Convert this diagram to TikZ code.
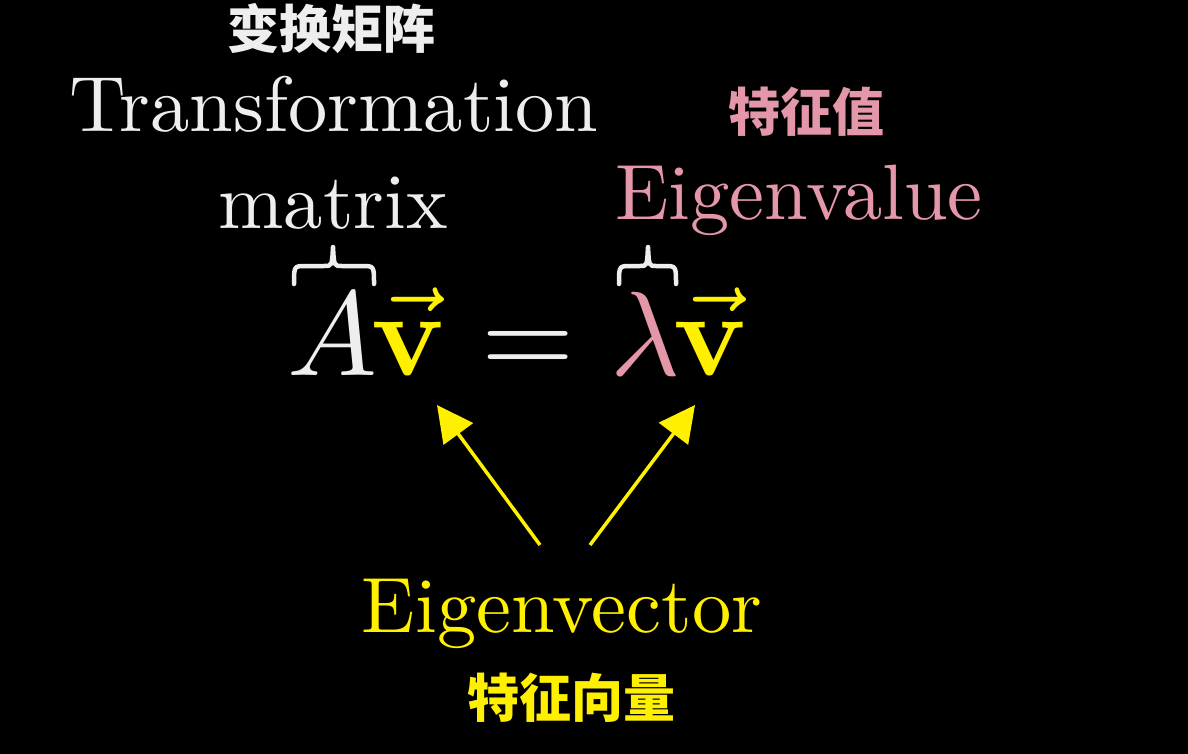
\RequirePackage{fix-cm}
\documentclass[tikz,border=0pt]{standalone}
\usepackage{graphicx}
\usepackage[no-math]{fontspec}
\setmainfont{lmroman10-regular.otf}[BoldFont=lmroman10-bold.otf,ItalicFont=lmroman10-italic.otf]
\newfontfamily\cjk{Noto Sans CJK SC}
\usetikzlibrary{arrows.meta}
\definecolor{wht}{HTML}{EEEEEE}
\definecolor{yel}{HTML}{FFF000}
\definecolor{pnk}{HTML}{E597AA}
\newcommand{\eqbox}[1]{\scalebox{12}[12]{\normalsize$#1$}}
\begin{document}
\begin{tikzpicture}[x=1pt,y=-1pt,
  lbl/.style={inner sep=0pt,anchor=base,font=\fontsize{78.5}{82}\selectfont},
  cjklbl/.style={inner sep=0pt,font=\cjk\bfseries\fontsize{52}{56}\selectfont},
  eqn/.style={inner sep=0pt,anchor=base},
  arr/.style={draw=yel,line width=3.5pt,-{Triangle[length=36pt,width=36pt]}},
  brc/.style={draw=wht,line width=4.5pt,line cap=round,line join=round}]
\fill[black] (0,0) rectangle (1188,754);
\useasboundingbox (0,0) rectangle (1188,754);
% labels
\node[cjklbl,text=wht] (tmzh) at (331,29) {变换矩阵};
\node[lbl,text=wht] (tm1) at (334,132) {Transformation};
\node[lbl,text=wht] (tm2) at (333,228) {matrix};
\node[cjklbl,text=pnk] (evzh) at (806,112) {特征值};
\node[lbl,text=pnk] (ev) at (799,219) {Eigenvalue};
\node[lbl,text=yel] (ec) at (562,632) {Eigenvector};
\node[cjklbl,text=yel] (eczh) at (571,698) {特征向量};
% equation
\node[eqn,text=wht] (A) at (332,375) {\eqbox{A}};
\node[eqn,text=yel] (v1) at (409,375) {\eqbox{\vec{\mathbf{v}}}};
\node[eqn,text=wht] (eq) at (528,375) {\eqbox{=}};
\node[eqn,text=pnk] (lam) at (645,375) {\eqbox{\lambda}};
\node[eqn,text=yel] (v2) at (711,375) {\eqbox{\vec{\mathbf{v}}}};
% braces
\draw[brc] (294,284) .. controls (294,266) .. (306,266) -- (324,266)
  .. controls (332,266) .. (333,247) .. controls (334,266) .. (342,266)
  -- (362,266) .. controls (374,266) .. (374,284);
\draw[brc] (619,284) .. controls (619,266) .. (631,266) -- (640,266)
  .. controls (647,266) .. (648,247) .. controls (649,266) .. (656,266)
  -- (664,266) .. controls (676,266) .. (676,284);
% arrows
\coordinate (t1) at (540,545);
\coordinate (h1) at (437,405);
\coordinate (t2) at (590,545);
\coordinate (h2) at (695,405);
\draw[arr] (t1) -- (h1);
\draw[arr] (t2) -- (h2);
\end{tikzpicture}
\end{document}
